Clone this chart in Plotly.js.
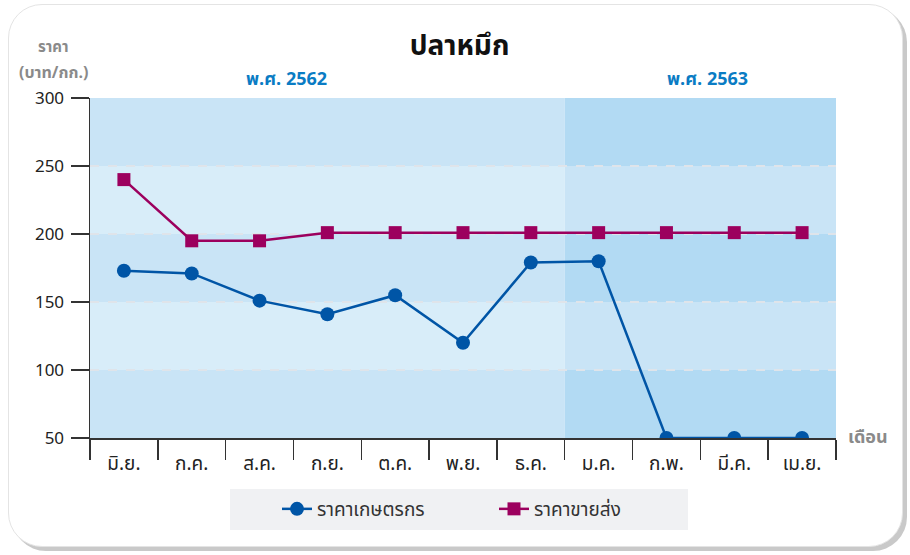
<!DOCTYPE html>
<html>
<head>
<meta charset="utf-8">
<script src="https://cdn.plot.ly/plotly-3.0.1.min.js"></script>
<style>
  html, body { margin:0; padding:0; background:#ffffff; width:910px; height:555px; overflow:hidden; }
  #card { position:absolute; left:8px; top:4px; width:893px; height:541px; border:1px solid #e4e4e4;
          border-radius:34px; background:#fff; box-shadow:4px 4px 0 #c9c9c9; }
  #chart { position:absolute; left:0; top:0; width:910px; height:555px; }
</style>
</head>
<body>
<div id="card"></div>
<div id="chart"></div>
<script>
const months = ["มิ.ย.","ก.ค.","ส.ค.","ก.ย.","ต.ค.","พ.ย.","ธ.ค.","ม.ค.","ก.พ.","มี.ค.","เม.ย."];
const farmPrice = [173, 171, 151, 141, 155, 120, 179, 180, 50, 50, 50];
const wholesalePrice = [240, 195, 195, 201, 201, 201, 201, 201, 201, 201, 201];
const seriesNames = ["ราคาเกษตรกร", "ราคาขายส่ง"];
const yTicks = [50, 100, 150, 200, 250, 300];
const years = ["พ.ศ. 2562", "พ.ศ. 2563"];
const yearStartIndex = [0, 7];

const FONT = "'Noto Sans Thai', 'Noto Sans', 'DejaVu Sans', sans-serif";

// background bands
const shapes = [];
const n = months.length;
const regions = [[-0.5, yearStartIndex[1] - 0.5], [yearStartIndex[1] - 0.5, n - 0.5]];
const bandColors = [["#c9e4f6", "#d8edf9"], ["#b2daf3", "#c9e4f6"]];
regions.forEach((r, ri) => {
  for (let i = 0; i < yTicks.length - 1; i++) {
    const fromTop = yTicks.length - 2 - i; // 0 for top band
    shapes.push({type:"rect", xref:"x", yref:"y", x0:r[0], x1:r[1], y0:yTicks[i], y1:yTicks[i+1],
      fillcolor: bandColors[ri][fromTop % 2], line:{width:0}, layer:"below"});
  }
});
// legend background
shapes.push({type:"rect", xref:"paper", yref:"paper", x0:(230-90)/746, x1:(688-90)/746,
  y0:(438-530)/340, y1:(438-489)/340, fillcolor:"#f0f1f3", line:{width:0}, layer:"below"});

const traces = [
  {x: months, y: farmPrice, name: seriesNames[0], type:"scatter", mode:"lines+markers",
   line:{color:"#0055a6", width:2.5}, marker:{symbol:"circle", size:14, color:"#0055a6"}},
  {x: months, y: wholesalePrice, name: seriesNames[1], type:"scatter", mode:"lines+markers",
   line:{color:"#9c005e", width:2.5}, marker:{symbol:"square", size:13, color:"#9c005e"}}
];

const annotations = [
  {text:"<b>ราคา</b>", xref:"paper", yref:"paper", x:(53-90)/746, y:(438-47)/340, showarrow:false,
   font:{family:FONT, size:15, color:"#8a8a8a"}, xanchor:"center", yanchor:"middle"},
  {text:"<b>(บาท/กก.)</b>", xref:"paper", yref:"paper", x:(53-90)/746, y:(438-73)/340, showarrow:false,
   font:{family:FONT, size:16, color:"#8a8a8a"}, xanchor:"center", yanchor:"middle"},
  {text:"<b>เดือน</b>", xref:"paper", yref:"paper", x:(846-90)/746, y:(438-437)/340, showarrow:false,
   font:{family:FONT, size:18, color:"#8a8a8a"}, xanchor:"left", yanchor:"middle"},
  {text:"<b>" + years[0] + "</b>", xref:"x", yref:"paper", x:2.4, y:(438-80)/340, showarrow:false,
   font:{family:FONT, size:18, color:"#0a7cc4"}, xanchor:"center", yanchor:"middle"},
  {text:"<b>" + years[1] + "</b>", xref:"x", yref:"paper", x:8.6, y:(438-80)/340, showarrow:false,
   font:{family:FONT, size:18, color:"#0a7cc4"}, xanchor:"center", yanchor:"middle"}
];

const layout = {
  width:910, height:555,
  margin:{l:90, r:74, t:98, b:117},
  paper_bgcolor:"rgba(0,0,0,0)", plot_bgcolor:"rgba(0,0,0,0)",
  font:{family:FONT, color:"#222"},
  title:{text:"<b>ปลาหมึก</b>", x:0.505, xanchor:"center", y:1-45/555, yanchor:"middle",
         font:{family:FONT, size:28, color:"#111"}},
  showlegend:true,
  legend:{orientation:"h", x:(494-90)/746, xanchor:"center", y:(438-509)/340, yanchor:"middle",
          bgcolor:"rgba(0,0,0,0)", font:{family:FONT, size:19, color:"#333"},
          entrywidth:172, entrywidthmode:"pixels"},
  xaxis:{type:"category", range:[-0.5, n-0.5], tickson:"boundaries", ticks:"outside", ticklen:20,
         tickcolor:"#333", tickwidth:1.5, showline:true, linecolor:"#333", linewidth:1.5,
         ticklabelstandoff:8,
         showgrid:false, tickfont:{family:FONT, size:19, color:"#222"}, fixedrange:true},
  yaxis:{range:[50, 300], tickvals:yTicks, ticks:"outside", ticklen:18, tickcolor:"#333", tickwidth:1.5,
         ticklabelstandoff:3,
         showline:true, linecolor:"#333", linewidth:1.5, showgrid:true, gridcolor:"#dfe4ea", gridwidth:1.5,
         griddash:"dash", zeroline:false, tickfont:{family:FONT, size:17, color:"#222"}, fixedrange:true},
  shapes: shapes,
  annotations: annotations
};

Plotly.newPlot("chart", traces, layout, {displayModeBar:false, staticPlot:true});
</script>
</body>
</html>
